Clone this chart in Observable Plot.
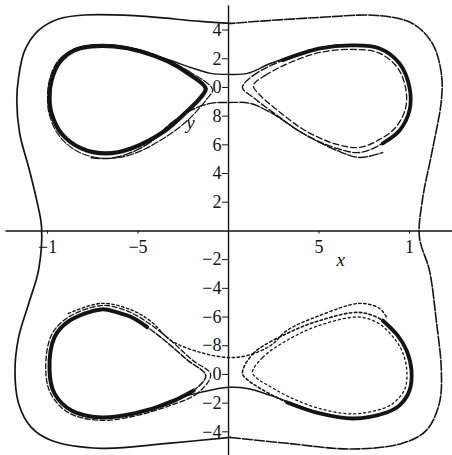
<!DOCTYPE html>
<html>
<head>
<meta charset="utf-8">
<script src="https://cdn.jsdelivr.net/npm/d3@7"></script>
<script src="https://cdn.jsdelivr.net/npm/@observablehq/plot@0.6"></script>
<style>
  html, body { margin: 0; padding: 0; background: #fff; }
  #chart svg { display: block; }
</style>
</head>
<body>
<div id="chart"></div>
<script>
// Phase-plane orbits, [x, y] pairs.

// Large outer orbit, split into its western and eastern halves
const outerWest = [[0.11,14.46],[-1.54,14.6],[-5.22,15.0],[-7.97,15.05],[-9.4,14.77],[-10.5,13.97],[-11.26,12.58],[-11.6,10.7],[-11.7,9.09],[-11.54,6.79],[-11.04,4.42],[-10.6,2.13],[-10.33,0.24],[-10.5,-2.75],[-11.04,-5.05],[-11.6,-7.42],[-11.8,-9.72],[-11.6,-12.02],[-10.9,-13.69],[-9.78,-14.6],[-7.03,-15.15],[-3.35,-14.8],[0.11,-14.39]];
const outerEast = [[0.11,-14.39],[3.24,-14.8],[6.87,-15.2],[9.6,-14.8],[10.93,-13.9],[11.65,-12.0],[11.76,-9.72],[11.48,-6.24],[11.1,-2.75],[10.55,-0.45],[10.71,2.13],[11.26,5.61],[11.76,9.09],[11.76,10.98],[11.26,13.07],[10.16,14.46],[8.19,15.02],[5.05,14.88],[2.3,14.67],[0.11,14.46]];

// Upper half: left island
const upperLeftCore = [[-1.26,9.93],[-2.25,10.98],[-3.35,11.81],[-4.84,12.51],[-6.32,12.86],[-7.58,12.86],[-8.52,12.58],[-9.34,11.74],[-9.78,10.49],[-9.89,9.3],[-9.78,8.19],[-9.23,6.79],[-8.13,5.75],[-6.76,5.4],[-5.38,5.75],[-3.57,6.93],[-2.36,8.26],[-1.54,9.3]];
const upperLeftRim = [[-0.88,9.86],[-2.09,11.05],[-3.35,11.9],[-4.84,12.6],[-6.32,12.95],[-7.58,12.95],[-8.6,12.65],[-9.45,11.8],[-9.9,10.49],[-10.0,9.3],[-9.9,8.1],[-9.34,6.6],[-8.2,5.45],[-6.65,5.05],[-5.2,5.4],[-3.4,6.6],[-2.1,7.9],[-1.2,9.2]];

// Upper half: right island
const upperRightOuter = [[0.77,10.0],[1.37,10.84],[3.24,12.02],[5.05,12.72],[6.87,12.93],[8.35,12.72],[9.45,11.67],[10.0,10.0],[10.0,8.4],[9.45,7.0],[8.52,6.1],[7.25,5.47],[5.99,5.75],[4.12,6.79],[2.31,8.4],[1.37,9.3]];
const upperRightInner = [[1.37,10.14],[2.03,10.84],[3.41,11.74],[5.05,12.44],[6.87,12.65],[8.24,12.44],[9.29,11.46],[9.78,10.0],[9.78,8.54],[9.23,7.21],[8.35,6.38],[7.25,5.82],[5.99,6.03],[4.23,7.0],[2.58,8.54],[1.76,9.44]];
const upperRightDense = [[3.0,11.9],[5.05,12.72],[6.87,12.93],[8.35,12.72],[9.45,11.67],[10.0,10.0],[10.0,8.4],[9.45,7.0],[8.52,6.1]];

// Upper half: arcs passing above and below the saddle
const upperSaddleTop = [[-5.6,12.8],[-4.67,12.44],[-3.19,11.88],[-2.09,11.39],[-0.99,10.98],[0,10.91],[1.04,10.98],[2.31,11.67],[4.12,12.44],[5.05,12.75],[6.0,12.95]];
const upperSaddleBottom = [[-7.6,5.1],[-6.65,5.05],[-5.5,5.4],[-4.3,6.2],[-3.19,7.5],[-2.09,8.4],[-0.99,8.89],[0,8.95],[1.21,8.89],[2.31,8.26],[2.86,7.84],[4.12,6.79],[5.99,5.61],[7.25,5.12],[8.52,5.47]];

// Lower half: left island
const lowerLeftOuter = [[-1.26,-10.07],[-1.92,-11.12],[-3.35,-12.02],[-5.22,-12.72],[-7.03,-13.0],[-8.68,-12.51],[-9.62,-11.32],[-9.89,-9.72],[-9.62,-7.42],[-8.85,-6.31],[-7.03,-5.47],[-6.15,-5.68],[-5.22,-6.1],[-3.74,-7.42],[-2.25,-9.02]];
const lowerLeftRim = [[-0.99,-10.0],[-1.7,-11.3],[-3.3,-12.2],[-5.2,-12.9],[-7.03,-13.2],[-8.8,-12.7],[-9.8,-11.4],[-10.1,-9.72],[-9.8,-7.3],[-8.9,-6.05],[-7.03,-5.2],[-6.0,-5.4],[-5.0,-5.95],[-3.5,-7.3],[-2.0,-9.0]];
const lowerLeftDense = [[-1.92,-11.12],[-3.35,-12.02],[-5.22,-12.72],[-7.03,-13.0],[-8.68,-12.51],[-9.62,-11.32],[-9.89,-9.72],[-9.62,-7.42],[-8.85,-6.31],[-7.03,-5.47],[-6.15,-5.68],[-5.22,-6.1],[-4.5,-6.7]];

// Lower half: right island
const lowerRightOuter = [[0.77,-9.93],[1.37,-8.54],[3.24,-7.14],[5.05,-6.24],[7.25,-5.68],[8.52,-6.24],[9.34,-7.28],[9.84,-8.33],[10.11,-9.72],[10.0,-11.12],[9.45,-12.16],[8.74,-12.65],[6.87,-13.07],[5.05,-12.72],[3.24,-11.95],[1.76,-10.98],[1.1,-10.42]];
const lowerRightInner = [[1.32,-9.86],[1.9,-8.8],[3.4,-7.5],[5.1,-6.55],[7.2,-6.0],[8.3,-6.45],[9.1,-7.4],[9.6,-8.4],[9.85,-9.72],[9.75,-11.0],[9.2,-11.9],[8.6,-12.35],[6.87,-12.75],[5.1,-12.4],[3.4,-11.6],[2.1,-10.7],[1.6,-10.3]];
const lowerRightDense = [[3.24,-11.95],[5.05,-12.72],[6.87,-13.07],[8.74,-12.65],[9.45,-12.16],[10.0,-11.12],[10.11,-9.72],[9.84,-8.33],[9.34,-7.28],[8.52,-6.24]];

// Lower half: arcs passing above and below the saddle
const lowerSaddleTop = [[-8.85,-5.75],[-7.03,-5.05],[-5.38,-5.5],[-4.29,-6.3],[-3.19,-7.63],[-1.54,-8.47],[0,-8.82],[1.04,-8.68],[2.31,-8.0],[3.24,-6.93],[5.05,-5.89],[7.25,-5.05],[8.35,-5.4],[8.74,-6.03]];
const lowerSaddleBottom = [[-4.5,-12.55],[-3.19,-11.81],[-1.54,-11.25],[0,-10.9],[1.04,-10.98],[2.31,-11.46],[4.12,-12.3],[5.05,-12.72],[6.2,-13.0]];

// Axis ticks and their labels
const xTickValues = [-10, -5, 5, 10];
const xTickLabels = ["\u22121", "\u22125", "5", "1"];
const yTickValues = [14, 12, 10, 8, 6, 4, 2, -2, -4, -6, -8, -10, -12, -14];
const yTickLabels = ["4", "2", "0", "8", "6", "4", "2", "\u22122", "\u22124", "\u22126", "\u22128", "0", "\u22122", "\u22124"];
const axisNames = [{name: "x", x: 6.2, y: -2.05}, {name: "y", x: -2.1, y: 7.55}];

const ink = "#141414";
const serif = "'Liberation Serif', 'DejaVu Serif', serif";

function orbit(data, options) {
  return Plot.line(data, {x: d => d[0], y: d => d[1], stroke: ink, strokeLinejoin: "round", ...options});
}

const chart = Plot.plot({
  width: 452,
  height: 455,
  margin: 0,
  x: {domain: [-12.6, 12.376], axis: null},
  y: {domain: [-15.65, 16.06], axis: null},
  style: {background: "#fff", fontFamily: serif},
  marks: [
    // coordinate axes through the origin
    Plot.ruleY([0], {x1: -12.3, x2: 12.376, stroke: ink, strokeWidth: 1.4}),
    Plot.ruleX([0], {y1: 15.7, y2: -15.65, stroke: ink, strokeWidth: 1.4}),
    Plot.ruleX(xTickValues, {x: d => d, y1: 0, y2: -0.22, stroke: ink, strokeWidth: 1}),
    Plot.ruleY(yTickValues, {y: d => d, x1: -0.33, x2: 0, stroke: ink, strokeWidth: 1}),

    // outer orbit
    orbit(outerWest, {curve: "catmull-rom", strokeWidth: 1.7}),
    orbit(outerEast, {curve: "catmull-rom", strokeWidth: 1.6, strokeDasharray: "10,2"}),

    // upper islands
    orbit(upperLeftRim, {curve: "catmull-rom-closed", strokeWidth: 1.2, strokeDasharray: "7,2"}),
    orbit(upperLeftCore, {curve: "catmull-rom-closed", strokeWidth: 4.2}),
    orbit(upperRightOuter, {curve: "catmull-rom-closed", strokeWidth: 1.4, strokeDasharray: "7,2.5"}),
    orbit(upperRightInner, {curve: "catmull-rom-closed", strokeWidth: 1.3, strokeDasharray: "6,3"}),
    orbit(upperRightDense, {curve: "catmull-rom", strokeWidth: 3.8}),
    orbit(upperSaddleTop, {curve: "catmull-rom", strokeWidth: 1.4}),
    orbit(upperSaddleBottom, {curve: "catmull-rom", strokeWidth: 1.4, strokeDasharray: "9,2"}),

    // lower islands
    orbit(lowerLeftRim, {curve: "catmull-rom-closed", strokeWidth: 1.3, strokeDasharray: "5,2.5"}),
    orbit(lowerLeftOuter, {curve: "catmull-rom-closed", strokeWidth: 1.5, strokeDasharray: "6,2"}),
    orbit(lowerLeftDense, {curve: "catmull-rom", strokeWidth: 4}),
    orbit(lowerRightOuter, {curve: "catmull-rom-closed", strokeWidth: 1.6, strokeDasharray: "2.5,2.5"}),
    orbit(lowerRightInner, {curve: "catmull-rom-closed", strokeWidth: 1.3, strokeDasharray: "2,3"}),
    orbit(lowerRightDense, {curve: "catmull-rom", strokeWidth: 3.8}),
    orbit(lowerSaddleTop, {curve: "catmull-rom", strokeWidth: 1.4, strokeDasharray: "2.5,2.5"}),
    orbit(lowerSaddleBottom, {curve: "catmull-rom", strokeWidth: 1.5}),

    // tick labels
    Plot.text(xTickValues, {x: d => d, y: 0, text: (d, i) => xTickLabels[i], dy: 16, lineAnchor: "middle", fontSize: 18, fill: ink}),
    Plot.text(yTickValues, {x: 0, y: d => d, text: (d, i) => yTickLabels[i], dx: -7, textAnchor: "end", lineAnchor: "middle", fontSize: 18, fill: ink}),
    Plot.text(axisNames, {x: "x", y: "y", text: "name", fontStyle: "italic", fontSize: 19, lineAnchor: "middle", fill: ink})
  ]
});

document.getElementById("chart").appendChild(chart);
</script>
</body>
</html>
